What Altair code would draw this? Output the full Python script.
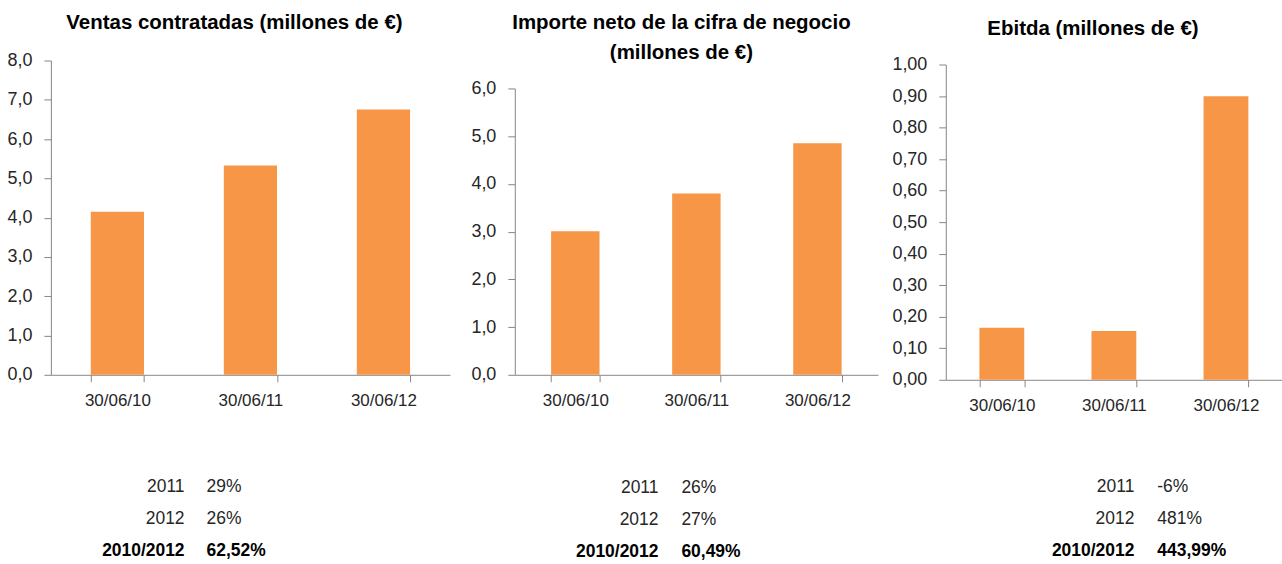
import altair as alt
import pandas as pd

categories = ["30/06/10", "30/06/11", "30/06/12"]
ventas = [4.15, 5.33, 6.75]
importe = [3.01, 3.80, 4.85]
ebitda = [0.165, 0.155, 0.899]

titles = [
    ["Ventas contratadas (millones de €)"],
    ["Importe neto de la cifra de negocio", "(millones de €)"],
    ["Ebitda (millones de €)"],
]

row_labels = ["2011", "2012", "2010/2012"]
ventas_pct = ["29%", "26%", "62,52%"]
importe_pct = ["26%", "27%", "60,49%"]
ebitda_pct = ["-6%", "481%", "443,99%"]

FONT = "Liberation Sans Narrow, Arial Narrow, Liberation Sans, sans-serif"
ORANGE = "#F79646"
GREY = "#868686"
TEXT = "#262626"


def spacer(h):
    return (
        alt.Chart(pd.DataFrame({"a": [0]}))
        .mark_point(size=1, opacity=0)
        .properties(width=10, height=h)
    )


def bars(values, title, dom, ticks, decimals, width, height, dx, pad, offset, line_h):
    df = pd.DataFrame({"cat": categories, "v": values})
    return (
        alt.Chart(
            df,
            title=alt.Title(
                title, font=FONT, fontSize=20.5, fontWeight="bold", color="#000000",
                anchor="middle", dx=dx, offset=offset, lineHeight=line_h,
            ),
        )
        .mark_bar(color=ORANGE)
        .encode(
            x=alt.X(
                "cat:N", sort=categories,
                scale=alt.Scale(paddingInner=pad, paddingOuter=pad / 2),
                axis=alt.Axis(title=None, labelAngle=0, tickBand="extent", tickSize=7,
                              labelPadding=11, labelFontSize=17),
            ),
            y=alt.Y(
                "v:Q",
                scale=alt.Scale(domain=dom, nice=False, zero=True),
                axis=alt.Axis(
                    title=None, values=ticks, grid=False, tickSize=7, labelPadding=12,
                    labelFontSize=18,
                    labelExpr=f"replace(format(datum.value, '.{decimals}f'), '.', ',')",
                ),
            ),
        )
        .properties(width=width, height=height)
    )


def table(pcts, xr, yr, width):
    recs = []
    for i, (lab, p) in enumerate(zip(row_labels, pcts)):
        recs.append({"row": f"r{i}", "col": "year", "txt": lab, "bold": i == 2})
        recs.append({"row": f"r{i}", "col": "pct", "txt": p, "bold": i == 2})
    df = pd.DataFrame(recs)
    base = alt.Chart(df).encode(
        x=alt.X("col:N", scale=alt.Scale(type="point", domain=["year", "pct"], range=xr, padding=0), axis=None),
        y=alt.Y("row:N", scale=alt.Scale(type="point", domain=["r0", "r1", "r2"], range=yr, padding=0), axis=None),
        text="txt:N",
    )
    layers = []
    for col, align in (("year", "right"), ("pct", "left")):
        for bold in (False, True):
            layers.append(
                base.mark_text(
                    align=align, baseline="alphabetic", font=FONT, fontSize=17.5,
                    fontWeight="bold" if bold else "normal",
                    color="#000000" if bold else TEXT,
                ).transform_filter(
                    f"datum.col == '{col}' && datum.bold == {'true' if bold else 'false'}"
                )
            )
    return alt.layer(*layers).properties(width=width, height=150)


col1 = alt.vconcat(
    spacer(12),
    bars(ventas, titles[0], [0, 8], [0, 1, 2, 3, 4, 5, 6, 7, 8], 1, 400, 315, -16, 0.6, 18, 28),
    table(ventas_pct, [134, 156], [83.5, 147.5], 407),
    spacing=0,
)
col2 = alt.vconcat(
    spacer(11.5),
    bars(importe, titles[1], [0, 6], [0, 1, 2, 3, 4, 5, 6], 1, 364, 287, -15, 0.6, 16, 30.5),
    table(importe_pct, [144, 167], [84.5, 148.5], 364),
    spacing=0,
)
col3 = alt.vconcat(
    spacer(18),
    bars(ebitda, titles[2], [0, 1], [0, 0.1, 0.2, 0.3, 0.4, 0.5, 0.6, 0.7, 0.8, 0.9, 1.0], 2, 337, 316, -21, 0.6, 16, 28),
    table(ebitda_pct, [189, 212], [78.5, 142.5], 337),
    spacing=0,
)

chart = (
    alt.hconcat(col1, col2, col3, spacing=13)
    .properties(
        padding={"left": 6, "top": 0, "right": 0, "bottom": 0},
        background="white",
    )
    .configure_view(stroke="transparent", strokeWidth=0)
    .configure_axis(
        domainColor=GREY, tickColor=GREY, labelColor=TEXT, labelFont=FONT,
        domainWidth=1, tickWidth=1,
    )
)

chart.save("out.html", embed_options={"renderer": "svg", "actions": False})
